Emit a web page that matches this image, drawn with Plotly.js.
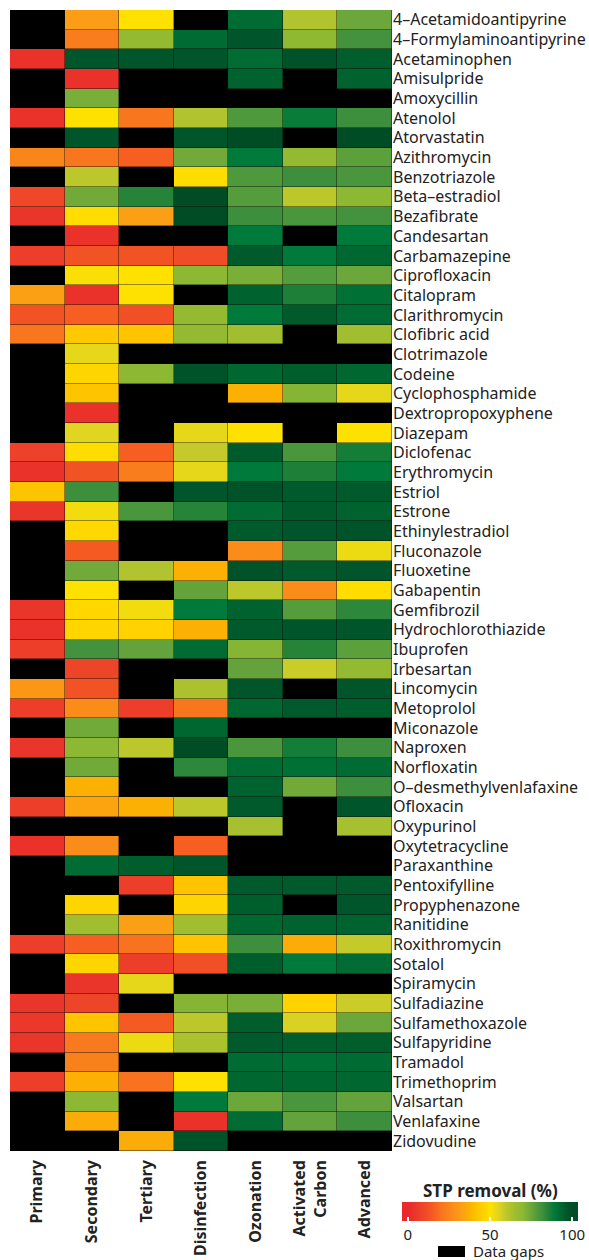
<!DOCTYPE html>
<html>
<head>
<meta charset="utf-8">
<script src="https://cdn.plot.ly/plotly-3.0.1.min.js"></script>
<style>
html,body{margin:0;padding:0;background:#fff;}
#chart{width:589px;height:1260px;}
</style>
</head>
<body>
<div id="chart"></div>
<script>
// Treatment stages (columns)
const stages = ["Primary", "Secondary", "Tertiary", "Disinfection", "Ozonation", "Activated<br>Carbon", "Advanced"];

// Compounds (rows, top to bottom)
const compounds = [
  "4–Acetamidoantipyrine","4–Formylaminoantipyrine","Acetaminophen","Amisulpride","Amoxycillin",
  "Atenolol","Atorvastatin","Azithromycin","Benzotriazole","Beta–estradiol","Bezafibrate",
  "Candesartan","Carbamazepine","Ciprofloxacin","Citalopram","Clarithromycin","Clofibric acid",
  "Clotrimazole","Codeine","Cyclophosphamide","Dextropropoxyphene","Diazepam","Diclofenac",
  "Erythromycin","Estriol","Estrone","Ethinylestradiol","Fluconazole","Fluoxetine","Gabapentin",
  "Gemfibrozil","Hydrochlorothiazide","Ibuprofen","Irbesartan","Lincomycin","Metoprolol",
  "Miconazole","Naproxen","Norfloxatin","O–desmethylvenlafaxine","Ofloxacin","Oxypurinol",
  "Oxytetracycline","Paraxanthine","Pentoxifylline","Propyphenazone","Ranitidine","Roxithromycin",
  "Sotalol","Spiramycin","Sulfadiazine","Sulfamethoxazole","Sulfapyridine","Tramadol",
  "Trimethoprim","Valsartan","Venlafaxine","Zidovudine"
];

// STP removal (%) per stage; null = data gap
const primary =      [null,null,3,null,null,3,null,25,null,10,4,null,7,null,33,13,21,null,null,null,null,null,8,3,42,4,null,null,null,null,4,3,7,null,30,7,null,4,null,null,7,null,3,null,null,null,null,7,null,null,4,5,4,null,7,null,null,null];
const secondary =    [32,23,97,3,73,50,97,21,60,74,49,3,13,51,3,16,43,54,47,42,3,55,49,13,82,52,48,15,74,50,48,47,81,9,13,27,74,70,74,37,34,null,27,92,null,47,65,16,47,4,9,42,22,24,37,70,36,null];
const tertiary =     [50,68,97,null,null,21,null,16,null,85,33,null,13,50,50,12,42,null,70,null,null,null,16,23,null,80,null,null,62,null,52,46,76,null,null,7,null,60,null,null,37,null,null,95,7,null,33,20,7,54,null,15,53,null,20,null,null,36];
const disinfection = [null,92,97,null,null,62,97,74,49,100,100,null,11,70,null,68,68,null,98,null,null,54,59,54,97,85,null,null,37,76,89,37,92,null,63,21,93,100,84,null,60,null,16,97,42,47,65,42,12,null,71,60,63,null,50,89,3,98];
const ozonation =    [92,97,92,94,null,79,100,89,79,78,82,89,96,73,94,89,65,null,93,37,null,50,96,89,98,92,96,27,98,60,94,96,71,76,97,93,null,80,92,94,96,64,null,null,96,95,93,82,95,null,73,95,96,92,93,75,92,null];
const activated =    [62,69,98,null,null,88,null,68,82,60,80,null,89,78,86,96,null,null,95,71,null,null,80,86,96,96,97,78,96,27,78,97,85,58,null,96,null,87,91,74,null,null,null,null,96,null,94,36,89,null,46,56,95,91,93,80,76,null];
const advanced =     [75,81,95,94,null,82,100,77,80,70,81,89,93,75,91,92,65,null,93,54,null,50,87,89,96,94,98,53,97,49,84,97,77,68,97,95,null,82,92,82,97,64,null,null,96,97,94,59,92,null,58,75,95,92,93,76,82,null];

// colour stops over 0..100 % removal
const stopPos = [0,10,15,20,27,33,38,43,48,50,55,60,65,70,74,78,82,86,89,92,95,97,100];
const stopCol = ["#E8282B","#EE4828","#F55A22","#F8721F","#FA8C1A","#FBA014","#FDB400","#FFC800","#FFD800","#FFE100",
                 "#E0D520","#BCC72C","#A0BE30","#8CB833","#72AA3A","#559C3D","#3E8F3D","#1E8038","#007A3A","#006B32",
                 "#005E2D","#00552B","#004D25"];

const zLo = -3.5, zHi = 103.5;
const colorscale = [[0, stopCol[0]]]
  .concat(stopPos.map((p, i) => [(p - zLo) / (zHi - zLo), stopCol[i]]))
  .concat([[1, stopCol[stopCol.length - 1]]]);

const cols = [primary, secondary, tertiary, disinfection, ozonation, activated, advanced];
const z = compounds.map((c, i) => cols.map(col => col[i]));

// figure geometry in px; paper spans the whole figure (zero margins)
const W = 589, H = 1260;
const L = 10, R = 392, T = 10, B = 1151;
const fx = v => v / W;
const fy = v => 1 - v / H;
const FONT = "Noto Sans, sans-serif";

const trace = {
  type: "heatmap",
  x: stages,
  y: compounds,
  z: z,
  zmin: zLo, zmax: zHi,
  colorscale: colorscale,
  hoverongaps: false,
  xgap: 0.4, ygap: 0.4,
  colorbar: {
    orientation: "h",
    x: fx(490), xanchor: "center",
    y: fy(1202), yanchor: "top",
    len: 192, lenmode: "pixels",
    thickness: 19,
    outlinewidth: 0,
    xpad: 8, ypad: 0,
    tickvals: [0, 50, 100],
    ticktext: ["0", "50", "100"],
    ticks: "inside", ticklen: 4, tickcolor: "#ffffff", tickwidth: 1.5,
    tickfont: {family: FONT, size: 15, color: "#222"}
  }
};

const layout = {
  width: W, height: H,
  margin: {l: 0, r: 0, t: 0, b: 0, pad: 0},
  paper_bgcolor: "#ffffff",
  plot_bgcolor: "#000000",
  font: {family: FONT, color: "#222"},
  xaxis: {
    domain: [fx(L), fx(R)],
    type: "category",
    side: "bottom",
    tickangle: -90,
    automargin: false,
    ticklabelstandoff: 5,
    tickfont: {family: FONT, size: 16, color: "#222", weight: "bold"},
    showgrid: false, zeroline: false, ticks: "", showline: false,
    fixedrange: true
  },
  yaxis: {
    domain: [fy(B), fy(T)],
    type: "category",
    side: "right",
    autorange: "reversed",
    automargin: false,
    tickfont: {family: FONT, size: 16, color: "#222"},
    showgrid: false, zeroline: false, ticks: "", showline: false,
    fixedrange: true
  },
  shapes: [
    {type: "rect", xref: "paper", yref: "paper",
     x0: fx(438), x1: fx(465), y0: fy(1257), y1: fy(1246),
     fillcolor: "#000000", line: {width: 0}}
  ],
  annotations: [
    {xref: "paper", yref: "paper", x: fx(490), y: fy(1190), xanchor: "center", yanchor: "middle",
     text: "<b>STP removal (%)</b>", showarrow: false,
     font: {family: FONT, size: 17, color: "#222"}},
    {xref: "paper", yref: "paper", x: fx(471), y: fy(1251), xanchor: "left", yanchor: "middle",
     text: "Data gaps", showarrow: false,
     font: {family: FONT, size: 15, color: "#222"}}
  ]
};

Plotly.newPlot("chart", [trace], layout, {displayModeBar: false, staticPlot: true});
</script>
</body>
</html>
